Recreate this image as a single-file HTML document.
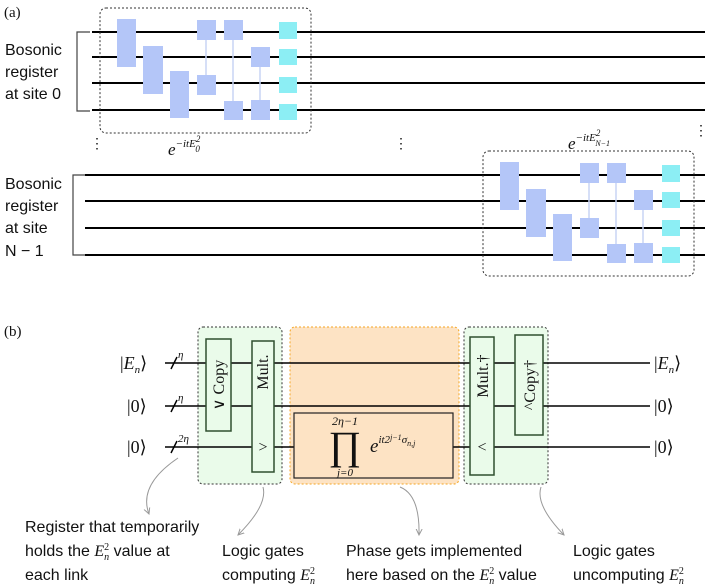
<!DOCTYPE html>
<html><head><style>
body{margin:0;background:#fff}
svg{display:block}
.t{font-family:"Liberation Sans",sans-serif;font-size:16px;fill:#111}
.m{font-family:"Liberation Serif",serif;fill:#111}
</style></head><body>
<svg width="705" height="586" viewBox="0 0 705 586" xmlns="http://www.w3.org/2000/svg">
<defs>
<marker id="ah" markerWidth="8" markerHeight="8" refX="6" refY="4" orient="auto"><path d="M0 1L6 4L0 7" fill="none" stroke="#999" stroke-width="1"/></marker>
<g id="gates">
<line x1="206" y1="30" x2="206" y2="85" stroke="#c8d4f4" stroke-width="1.5"/>
<line x1="233" y1="30" x2="233" y2="110" stroke="#c8d4f4" stroke-width="1.5"/>
<line x1="260" y1="57" x2="260" y2="110" stroke="#c8d4f4" stroke-width="1.5"/>
<g fill="#b4c6f8">
<rect x="117" y="19" width="19" height="48"/><rect x="143" y="46" width="20" height="48"/><rect x="170" y="71" width="19" height="47"/>
<rect x="197" y="20" width="19" height="20"/><rect x="197" y="75" width="19" height="20"/>
<rect x="224" y="20" width="19" height="20"/><rect x="224" y="101" width="19" height="19"/>
<rect x="251" y="47" width="19" height="20"/><rect x="251" y="100" width="19" height="20"/>
</g>
<g fill="#8ceef4">
<rect x="279" y="22" width="18" height="17"/><rect x="279" y="49" width="18" height="16"/><rect x="279" y="77" width="18" height="16"/><rect x="279" y="104" width="18" height="16"/>
</g>
<rect x="100" y="8" width="211" height="125" rx="6" fill="none" stroke="#333" stroke-dasharray="2,2"/>
</g>
</defs>
<text x="4" y="17" class="m" font-size="15">(a)</text>
<g stroke="#000" stroke-width="2">
<line x1="92" y1="32" x2="705" y2="32"/><line x1="92" y1="57" x2="705" y2="57"/>
<line x1="92" y1="83" x2="705" y2="83"/><line x1="92" y1="110" x2="705" y2="110"/>
<line x1="85" y1="175" x2="705" y2="175"/><line x1="85" y1="201" x2="705" y2="201"/>
<line x1="85" y1="228" x2="705" y2="228"/><line x1="85" y1="255" x2="705" y2="255"/>
</g>
<path d="M90 32H77V111H90" fill="none" stroke="#444" stroke-width="1.2"/>
<path d="M85 175H73V255H85" fill="none" stroke="#444" stroke-width="1.2"/>
<text class="t" x="5" y="55">Bosonic</text><text class="t" x="5" y="77">register</text><text class="t" x="5" y="99">at site 0</text>
<text class="t" x="5" y="189">Bosonic</text><text class="t" x="5" y="211">register</text><text class="t" x="5" y="233">at site</text><text class="t" x="5" y="256">N − 1</text>
<use href="#gates"/>
<use href="#gates" transform="translate(383,143)"/>
<text class="m" x="168" y="155" font-size="17" font-style="italic">e<tspan font-size="11" dy="-8">−itE</tspan><tspan font-size="9" dy="-5">2</tspan><tspan font-size="9" dx="-5" dy="10">0</tspan></text>
<text class="m" x="568" y="149" font-size="17" font-style="italic">e<tspan font-size="11" dy="-8">−itE</tspan><tspan font-size="9" dy="-5">2</tspan><tspan font-size="8" dx="-5" dy="10">N−1</tspan></text>
<text class="m" x="90" y="148" font-size="14">⋮</text><text class="m" x="394" y="148" font-size="14">⋮</text><text class="m" x="694" y="135" font-size="14">⋮</text>

<text x="4" y="336" class="m" font-size="15">(b)</text>
<rect x="198" y="327" width="84" height="157" rx="5" fill="#eafbea" stroke="#333" stroke-dasharray="2,2"/>
<rect x="464" y="327" width="84" height="157" rx="5" fill="#eafbea" stroke="#333" stroke-dasharray="2,2"/>
<rect x="290" y="327" width="169" height="157" rx="5" fill="#fde3c4" stroke="#f5a623" stroke-dasharray="2,2"/>
<g stroke="#000" stroke-width="1.5">
<line x1="165" y1="363" x2="650" y2="363"/><line x1="165" y1="406" x2="650" y2="406"/><line x1="165" y1="447" x2="650" y2="447"/>
<line x1="171" y1="369" x2="177" y2="357"/><line x1="171" y1="412" x2="177" y2="400"/><line x1="171" y1="453" x2="177" y2="441"/>
</g>
<g class="m" font-size="11" font-style="italic"><text x="178" y="358">η</text><text x="178" y="401">η</text><text x="178" y="442">2η</text></g>
<g class="m" font-size="18"><text x="120" y="369">|<tspan font-style="italic">E</tspan><tspan font-size="11" font-style="italic" dy="4">n</tspan><tspan dy="-4">⟩</tspan></text>
<text x="127" y="412">|0⟩</text><text x="127" y="453">|0⟩</text>
<text x="654" y="369">|<tspan font-style="italic">E</tspan><tspan font-size="11" font-style="italic" dy="4">n</tspan><tspan dy="-4">⟩</tspan></text>
<text x="654" y="412">|0⟩</text><text x="654" y="453">|0⟩</text></g>
<g fill="#eafbea" stroke="#2f4f2f" stroke-width="1.5">
<rect x="206" y="339" width="25" height="92"/><rect x="252" y="341" width="22" height="131"/>
<rect x="470" y="337" width="24" height="138"/><rect x="515" y="335" width="28" height="100"/>
</g>
<rect x="294" y="413" width="159" height="65" fill="#fde3c4" stroke="#222" stroke-width="1.2"/>
<g class="m" font-size="16" fill="#333">
<text transform="translate(224,385) rotate(-90)" text-anchor="middle">∨ Copy</text>
<text transform="translate(268,372) rotate(-90)" text-anchor="middle">Mult.</text>
<text x="263" y="452" text-anchor="middle">&gt;</text>
<text transform="translate(488,376) rotate(-90)" text-anchor="middle">Mult.†</text>
<text x="482" y="452" text-anchor="middle">&lt;</text>
<text transform="translate(535,385) rotate(-90)" text-anchor="middle">^Copy†</text>
</g>
<g class="m" font-style="italic">
<text x="345" y="425" font-size="12" text-anchor="middle">2η−1</text>
<text x="345" y="459" font-size="40" text-anchor="middle" font-style="normal">∏</text>
<text x="345" y="476" font-size="11" text-anchor="middle">j=0</text>
<text x="370" y="452" font-size="19">e<tspan font-size="11" dy="-9">it2<tspan font-size="8" dy="-3">j−1</tspan><tspan dy="3">σ</tspan><tspan font-size="8" dy="3">n,j</tspan></tspan></text>
</g>
<g fill="none" stroke="#999" stroke-width="1" marker-end="url(#ah)">
<path d="M178 458 Q138 485 149 514"/><path d="M263 487 Q268 505 238 535"/>
<path d="M400 487 Q420 495 419 535"/><path d="M541 487 Q535 505 564 535"/>
</g>
<text class="t" x="25" y="532">Register that temporarily</text>
<text class="t" x="25" y="556">holds the <tspan class="m" font-style="italic">E</tspan><tspan class="m" font-size="10" dy="-6">2</tspan><tspan class="m" font-size="10" font-style="italic" dx="-5" dy="10">n</tspan><tspan dy="-4"> value at</tspan></text>
<text class="t" x="25" y="580">each link</text>
<text class="t" x="222" y="556">Logic gates</text><text class="t" x="222" y="580">computing <tspan class="m" font-style="italic">E</tspan><tspan class="m" font-size="10" dy="-6">2</tspan><tspan class="m" font-size="10" font-style="italic" dx="-5" dy="10">n</tspan></text>
<text class="t" x="346" y="556">Phase gets implemented</text><text class="t" x="346" y="580">here based on the <tspan class="m" font-style="italic">E</tspan><tspan class="m" font-size="10" dy="-6">2</tspan><tspan class="m" font-size="10" font-style="italic" dx="-5" dy="10">n</tspan><tspan dy="-4"> value</tspan></text>
<text class="t" x="573" y="556">Logic gates</text><text class="t" x="573" y="580">uncomputing <tspan class="m" font-style="italic">E</tspan><tspan class="m" font-size="10" dy="-6">2</tspan><tspan class="m" font-size="10" font-style="italic" dx="-5" dy="10">n</tspan></text>
</svg>
</body></html>
